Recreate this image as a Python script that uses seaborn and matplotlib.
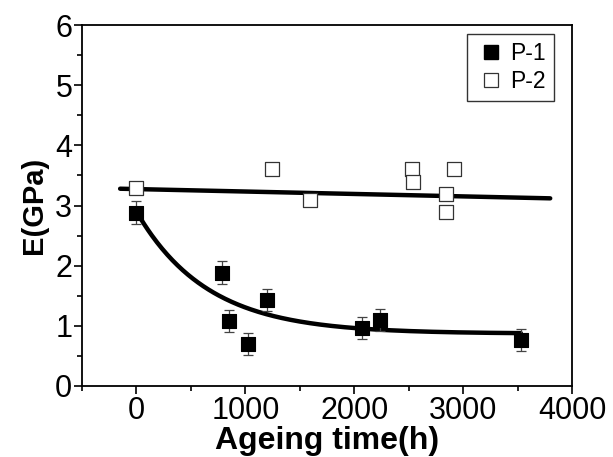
import numpy as np
import pandas as pd
import matplotlib
matplotlib.use("Agg")
import matplotlib.pyplot as plt
import seaborn as sns
from matplotlib.ticker import MultipleLocator
from matplotlib.lines import Line2D

sns.set_theme(style="ticks")
plt.rcParams['font.family'] = ['Liberation Sans', 'DejaVu Sans']
plt.rcParams['text.color'] = 'black'
plt.rcParams['axes.labelcolor'] = 'black'
plt.rcParams['xtick.color'] = 'black'
plt.rcParams['ytick.color'] = 'black'

# P-1 data
p1_time = [0, 790, 850, 1020, 1200, 2070, 2240, 3530]
p1_E = [2.88, 1.88, 1.08, 0.70, 1.43, 0.96, 1.10, 0.76]
p1_err = [0.19, 0.19, 0.18, 0.18, 0.19, 0.18, 0.18, 0.18]

# P-2 data
p2_time = [0, 1245, 1590, 2530, 2540, 2845, 2845, 2920]
p2_E = [3.30, 3.60, 3.10, 3.60, 3.40, 3.20, 2.90, 3.60]

# fit parameters
p1_fit = dict(y0=0.87, A=2.03, t=650, x_start=0, x_end=3530)
p2_fit = dict(x=[-150, 3800], y=[3.28, 3.12])

fig = plt.figure(figsize=(6.13, 4.57), dpi=100)
ax = fig.add_axes([0.1338, 0.1554, 0.7993, 0.7896])

# fit curves
xf = np.linspace(p1_fit['x_start'], p1_fit['x_end'], 300)
yf = p1_fit['y0'] + p1_fit['A'] * np.exp(-xf / p1_fit['t'])
sns.lineplot(x=xf, y=yf, ax=ax, color='black', linewidth=3.2, sort=False, zorder=2)
sns.lineplot(x=p2_fit['x'], y=p2_fit['y'], ax=ax, color='black', linewidth=3.2, zorder=2)

# error bars for P-1
ax.errorbar(p1_time, p1_E, yerr=p1_err, fmt='none', ecolor='#444444',
            elinewidth=0.9, capsize=3.5, capthick=0.9, zorder=3)

df1 = pd.DataFrame({'t': p1_time, 'E': p1_E})
df2 = pd.DataFrame({'t': p2_time, 'E': p2_E})
sns.scatterplot(data=df1, x='t', y='E', ax=ax, marker='s', s=95, color='black',
                edgecolor='black', linewidth=0.8, zorder=4)
sns.scatterplot(data=df2, x='t', y='E', ax=ax, marker='s', s=95, facecolor='white',
                edgecolor='#333333', linewidth=0.9, zorder=4)

ax.set_xlim(-500, 4000)
ax.set_ylim(0, 6)
ax.xaxis.set_major_locator(MultipleLocator(1000))
ax.xaxis.set_minor_locator(MultipleLocator(500))
ax.yaxis.set_major_locator(MultipleLocator(1))
ax.yaxis.set_minor_locator(MultipleLocator(0.5))
ax.tick_params(which='major', direction='out', length=6, width=1.2, labelsize=22,
               colors='black', pad=1)
ax.tick_params(which='minor', direction='out', length=3.5, width=1.2)
ax.tick_params(top=False, right=False)
for s in ax.spines.values():
    s.set_linewidth(1.3)
    s.set_color('black')

ax.set_xlabel('Ageing time(h)', fontsize=23, fontweight='bold', labelpad=0)
ax.set_ylabel('E(GPa)', fontsize=21, fontweight='bold', labelpad=5)

handles = [
    Line2D([], [], marker='s', linestyle='none', markersize=10.5,
           markerfacecolor='black', markeredgecolor='black'),
    Line2D([], [], marker='s', linestyle='none', markersize=10.5,
           markerfacecolor='white', markeredgecolor='#333333', markeredgewidth=0.9),
]
leg = ax.legend(handles, ['P-1', 'P-2'], loc='upper right', fontsize=16.5,
                frameon=True, fancybox=False, edgecolor='black',
                bbox_to_anchor=(0.963, 0.975), handletextpad=0.15,
                borderpad=0.35, labelspacing=0.2, handlelength=1.4,
                borderaxespad=0)
leg.get_frame().set_linewidth(1.0)

fig.savefig('out.png', dpi=100)
